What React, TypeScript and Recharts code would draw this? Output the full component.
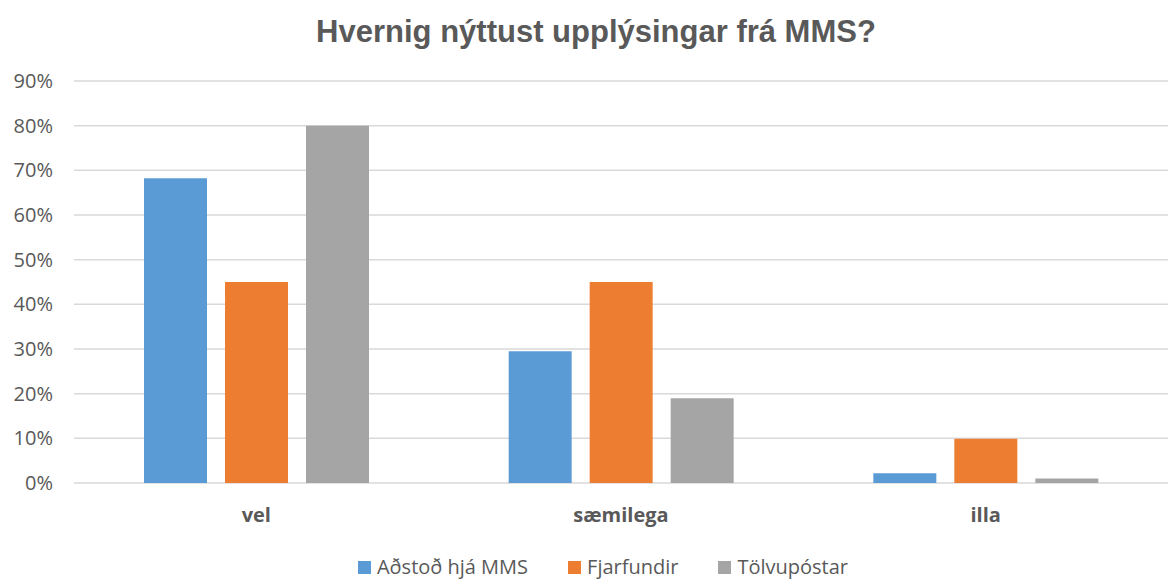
import React from 'react';
import { BarChart, Bar, XAxis, YAxis, CartesianGrid, Legend } from 'recharts';

const categories = ['vel', 'sæmilega', 'illa'];
const adstod = [0.682, 0.295, 0.022];
const fjarfundir = [0.45, 0.45, 0.099];
const tolvupostar = [0.80, 0.19, 0.01];
const yTicks = [0, 0.1, 0.2, 0.3, 0.4, 0.5, 0.6, 0.7, 0.8, 0.9];

const series = [
  { key: 'Aðstoð hjá MMS', color: '#5B9BD5' },
  { key: 'Fjarfundir', color: '#ED7D31' },
  { key: 'Tölvupóstar', color: '#A5A5A5' },
];

const data = categories.map((name, i) => ({
  name,
  'Aðstoð hjá MMS': adstod[i],
  Fjarfundir: fjarfundir[i],
  Tölvupóstar: tolvupostar[i],
}));

const textColor = '#595959';

// legend drawn like the excel one: small squares + text
const renderLegend = () => (
  <div style={{ display: 'flex', justifyContent: 'center', gap: 40, paddingTop: 7, marginLeft: 38, fontFamily: '"Open Sans"', fontSize: 20, color: textColor, lineHeight: '22px' }}>
    {series.map((s) => (
      <div key={s.key} style={{ display: 'flex', alignItems: 'center' }}>
        <span style={{ width: 13, height: 13, background: s.color, marginRight: 6, display: 'inline-block' }} />
        <span>{s.key}</span>
      </div>
    ))}
  </div>
);

export default function App() {
  return (
    <div style={{ position: 'absolute', left: 0, top: 0, width: 1168, height: 579, background: '#fff' }}>
      <div
        style={{
          position: 'absolute', top: 14, left: 12, width: 1168, textAlign: 'center',
          fontFamily: '"Liberation Sans", Arial, sans-serif', fontWeight: 'bold', fontSize: 31, color: textColor,
        }}
      >
        Hvernig nýttust upplýsingar frá MMS?
      </div>
      <BarChart
        width={1168}
        height={579}
        data={data}
        margin={{ top: 81, right: 0, left: 0, bottom: 0 }}
        barCategoryGap={70}
        barGap={18}
      >
        <CartesianGrid vertical={false} stroke="#D9D9D9" strokeWidth={1.5} />
        <XAxis
          dataKey="name"
          axisLine={false}
          tickLine={false}
          tickSize={0}
          tickMargin={25}
          height={66}
          tick={{ fill: textColor, fontSize: 20, fontWeight: 'bold', fontFamily: '"Open Sans"' }}
        />
        <YAxis
          width={74}
          domain={[0, 0.9]}
          ticks={yTicks}
          axisLine={false}
          tickLine={false}
          tickSize={0}
          tickMargin={21}
          interval={0}
          tickFormatter={(v: number) => `${Math.round(v * 100)}%`}
          tick={{ fill: textColor, fontSize: 20, fontFamily: '"Open Sans"' }}
        />
        <Legend verticalAlign="bottom" height={30} content={renderLegend} />
        {series.map((s) => (
          <Bar key={s.key} dataKey={s.key} fill={s.color} isAnimationActive={false} />
        ))}
      </BarChart>
    </div>
  );
}
